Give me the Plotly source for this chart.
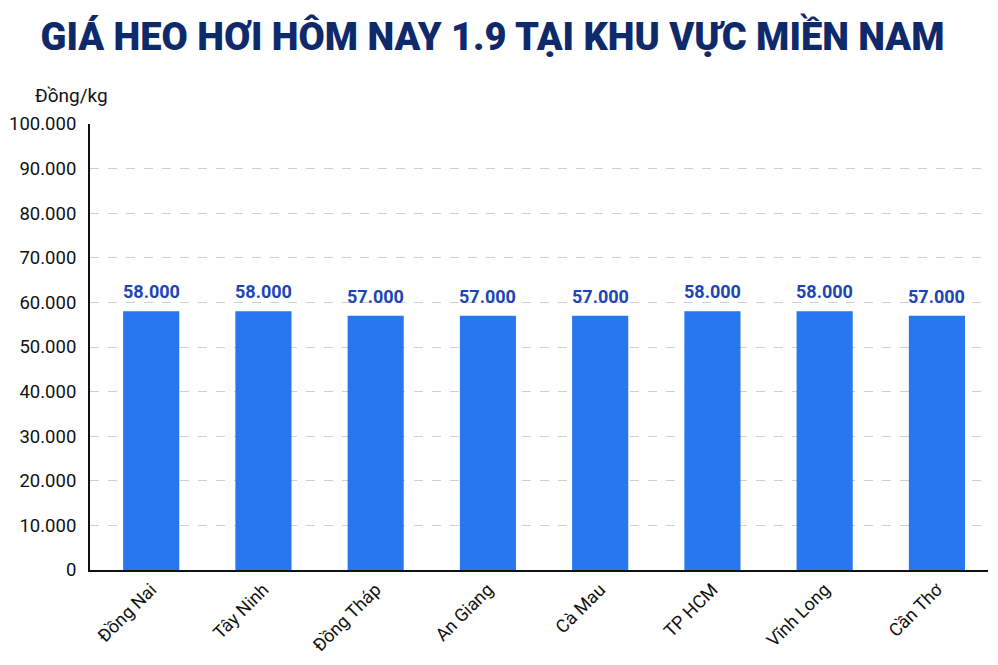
import plotly.graph_objects as go

categories = ["Đồng Nai", "Tây Ninh", "Đồng Tháp", "An Giang", "Cà Mau", "TP HCM", "Vĩnh Long", "Cần Thơ"]
prices = [58000, 58000, 57000, 57000, 57000, 58000, 58000, 57000]
tick_vals = [0, 10000, 20000, 30000, 40000, 50000, 60000, 70000, 80000, 90000, 100000]
tick_text = ["0", "10.000", "20.000", "30.000", "40.000", "50.000", "60.000", "70.000", "80.000", "90.000", "100.000"]
labels = [f"{v:,}".replace(",", ".") for v in prices]

W, H = 990, 657  # page body adds an 8px offset; keep the figure inside the 998x665 window

fig = go.Figure(go.Bar(
    x=categories, y=prices,
    marker=dict(color="#2777EF", line=dict(width=0)),
    hoverinfo="skip",
))

for c, v, t in zip(categories, prices, labels):
    fig.add_annotation(x=c, y=v, text=t, showarrow=False, yanchor="bottom", yshift=7,
                       font=dict(family="Roboto", size=18, color="#1C45B5", weight="bold"))

fig.update_layout(
    width=W, height=H,
    margin=dict(l=82, r=10, t=116, b=95),
    paper_bgcolor="white", plot_bgcolor="white",
    bargap=0.5,
    showlegend=False,
    title=dict(text="GIÁ HEO HƠI HÔM NAY 1.9 TẠI KHU VỰC MIỀN NAM",
               x=484.5 / W, xanchor="center", y=1 - 29 / H, yanchor="middle", yref="container",
               font=dict(family="Roboto", size=38, color="#0F2A6B", weight=900)),
)
fig.add_annotation(text="Đồng/kg", xref="paper", yref="paper", x=-0.064, y=1.065,
                   xanchor="left", yanchor="middle", showarrow=False,
                   font=dict(family="Roboto", size=19, color="#111"))

fig.update_yaxes(range=[0, 100000], tickvals=tick_vals, ticktext=tick_text,
                 showgrid=True, gridcolor="#CFCFCF", griddash="dash", gridwidth=1,
                 showline=True, linecolor="#111", linewidth=2, zeroline=False,
                 ticks="", ticklabelstandoff=8, automargin=False,
                 tickfont=dict(family="Roboto", size=18.5, color="#111"))
fig.update_xaxes(range=[-0.545, 7.455], showline=True, linecolor="#111", linewidth=2, tickangle=-45,
                 ticks="", ticklabelstandoff=0, automargin=False,
                 tickfont=dict(family="Roboto", size=18, color="#111"))

fig.write_html("out.html")
